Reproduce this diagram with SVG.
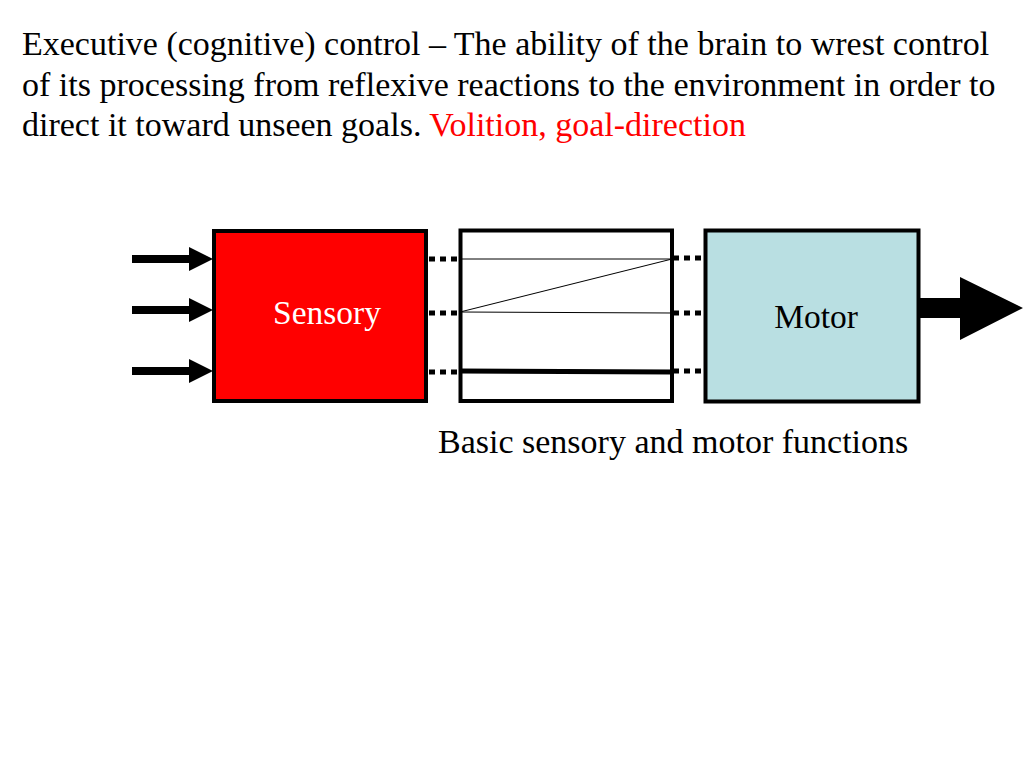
<svg xmlns="http://www.w3.org/2000/svg" width="1024" height="768" viewBox="0 0 1024 768">
<style>
.t{font-family:"Liberation Serif","Times New Roman",serif;font-size:34px;fill:#000}
.lbl{font-size:33.5px}
.box{stroke:#000;stroke-width:4}
.dot{stroke:#000;stroke-width:5;stroke-dasharray:6 5;fill:none}
.thin{stroke:#000;stroke-width:1;fill:none}
</style>
<defs>
<marker id="ah" viewBox="0 0 24 24" refX="0" refY="12" markerWidth="24" markerHeight="24" markerUnits="userSpaceOnUse" orient="auto">
<path d="M0,0 L24,12 L0,24 Z" fill="#000"/>
</marker>
</defs>
<rect width="1024" height="768" fill="#fff"/>
<g id="title">
<text class="t" x="22" y="55">Executive (cognitive) control – The ability of the brain to wrest control</text>
<text class="t" x="22" y="95.5">of its processing from reflexive reactions to the environment in order to</text>
<text class="t" x="22" y="136">direct it toward unseen goals. <tspan fill="#f00">Volition, goal-direction</tspan></text>
</g>
<g id="connectors">
<line x1="132" y1="259" x2="189" y2="259" stroke="#000" stroke-width="8" marker-end="url(#ah)"/>
<line x1="132" y1="310" x2="189" y2="310" stroke="#000" stroke-width="8" marker-end="url(#ah)"/>
<line x1="132" y1="371" x2="189" y2="371" stroke="#000" stroke-width="8" marker-end="url(#ah)"/>
<line class="dot" x1="429" y1="259" x2="460" y2="259"/>
<line class="dot" x1="429" y1="313" x2="460" y2="313"/>
<line class="dot" x1="429" y1="372" x2="460" y2="372"/>
<line class="dot" x1="673" y1="258" x2="705" y2="258"/>
<line class="dot" x1="673" y1="313" x2="705" y2="313"/>
<line class="dot" x1="673" y1="371" x2="705" y2="371"/>
<polygon points="918,298 960,298 960,277 1023,308 960,340 960,318 918,318" fill="#000"/>
</g>
<g id="sensory">
<rect class="box" x="214" y="231" width="212" height="170" fill="#f00"/>
<text class="t lbl" x="327" y="324" text-anchor="middle" style="fill:#fff">Sensory</text>
</g>
<g id="middle">
<rect class="box" x="460.5" y="230.5" width="211.5" height="170.5" fill="#fff"/>
<line class="thin" x1="460" y1="259" x2="672" y2="259" stroke="#555"/>
<line class="thin" x1="460" y1="312" x2="672" y2="259"/>
<line class="thin" x1="460" y1="312" x2="672" y2="313"/>
<line x1="460" y1="371" x2="672" y2="372" stroke="#000" stroke-width="5"/>
</g>
<g id="motor">
<rect class="box" x="705.5" y="230.5" width="213" height="171" fill="#b9dfe2"/>
<text class="t lbl" x="816" y="328" text-anchor="middle">Motor</text>
</g>
<g id="caption">
<text class="t" x="438" y="453">Basic sensory and motor functions</text>
</g>
</svg>
